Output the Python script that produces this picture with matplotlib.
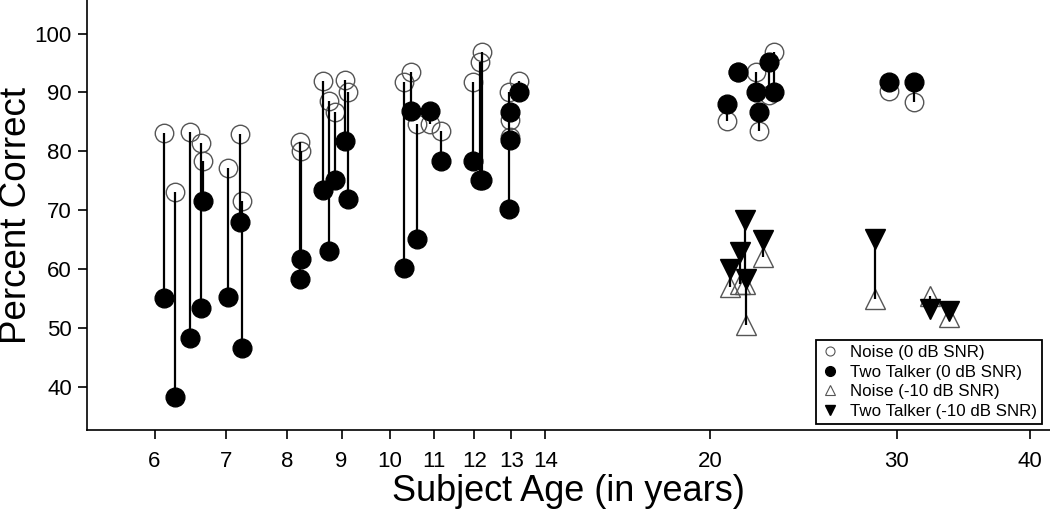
import matplotlib
matplotlib.use('Agg')
import matplotlib.pyplot as plt
from matplotlib.lines import Line2D

plt.rcParams['font.family'] = ['Liberation Sans', 'DejaVu Sans']

# children, 0 dB SNR: age, noise, two talker
kid_age = [6.13, 6.27, 6.48, 6.64, 6.66, 7.03, 7.22, 7.26, 8.23, 8.25, 8.65, 8.75,
           8.88, 9.07, 9.13, 10.30, 10.47, 10.59, 10.89, 11.17, 11.97, 12.15, 12.19,
           12.95, 12.97, 12.96, 13.22]
kid_noise = [83.1, 73.1, 83.3, 81.4, 78.4, 77.1, 83.0, 71.6, 81.6, 80.1, 92.0, 88.5,
             86.7, 92.1, 90.1, 91.7, 93.4, 84.7, 84.7, 83.5, 91.7, 95.1, 96.8,
             90.1, 85.3, 82.5, 92.0]
kid_talker = [55.1, 38.3, 48.3, 53.3, 71.6, 55.3, 68.0, 46.6, 58.3, 61.7, 73.4, 63.1,
              75.1, 81.7, 71.8, 60.1, 86.8, 65.0, 86.8, 78.4, 78.4, 75.1, 75.1,
              70.1, 86.7, 81.9, 90.1]

# adults, 0 dB SNR
ad_age = [20.75, 21.25, 22.1, 22.24, 22.75, 23.0, 29.5, 31.1]
ad_noise = [85.1, 93.4, 93.4, 83.5, 89.5, 96.8, 90.2, 88.4]
ad_talker = [88.1, 93.4, 90.1, 86.7, 95.1, 90.0, 91.7, 91.7]

# adults, -10 dB SNR
ad10_age = [20.9, 21.35, 21.59, 21.63, 22.46, 28.6, 32.2, 33.6]
ad10_noise = [56.9, 57.5, 57.5, 50.4, 62.0, 54.9, 55.4, 51.8]
ad10_talker = [60.0, 62.9, 68.3, 58.3, 64.9, 65.1, 53.2, 52.9]

xticks = [6, 7, 8, 9, 10, 11, 12, 13, 14, 20, 30, 40]
yticks = [40, 50, 60, 70, 80, 90, 100]

fig = plt.figure(figsize=(10.5, 5.09), dpi=100)
ax = fig.add_axes([0.0826, 0.155, 0.9174, 0.845])

ax.set_xscale('log')
ax.set_xlim(5.18, 41.8)
ax.set_ylim(32.6, 105.7)

ages = kid_age + ad_age
noise = kid_noise + ad_noise
talker = kid_talker + ad_talker

ax.plot(ages, noise, 'o', ms=13.3, mfc='none', mec='#555555', mew=1.0, zorder=2)
ax.plot(ad10_age, ad10_noise, '^', ms=15, mfc='none', mec='#555555', mew=1.0, zorder=2)
ax.vlines(ages, noise, talker, color='black', lw=1.6, zorder=3)
ax.vlines(ad10_age, ad10_noise, ad10_talker, color='black', lw=1.6, zorder=3)
ax.plot(ages, talker, 'o', ms=13.5, color='black', zorder=4)
ax.plot(ad10_age, ad10_talker, 'v', ms=15, color='black', zorder=4)

ax.set_xticks(xticks)
ax.set_xticklabels([str(t) for t in xticks])
ax.minorticks_off()
ax.set_yticks(yticks)
ax.tick_params(axis='x', labelsize=16, length=6.7, width=1.2, pad=8)
ax.tick_params(axis='y', labelsize=16, length=6.7, width=1.2, pad=4)

ax.spines['top'].set_visible(False)
ax.spines['right'].set_visible(False)
ax.spines['left'].set_linewidth(1.2)
ax.spines['bottom'].set_linewidth(1.2)

ax.set_xlabel('Subject Age (in years)', fontsize=26, labelpad=2)
ax.set_ylabel('Percent Correct', fontsize=26.5)
ax.yaxis.set_label_coords(-0.0545, 0.5)

handles = [
    Line2D([], [], ls='none', marker='o', ms=6.5, mfc='none', mec='#555555', mew=0.8),
    Line2D([], [], ls='none', marker='o', ms=7, color='black'),
    Line2D([], [], ls='none', marker='^', ms=7.5, mfc='none', mec='#555555', mew=0.8),
    Line2D([], [], ls='none', marker='v', ms=7.5, color='black'),
]
labels = ['Noise (0 dB SNR)', 'Two Talker (0 dB SNR)',
          'Noise (-10 dB SNR)', 'Two Talker (-10 dB SNR)']
leg = ax.legend(handles, labels, loc='lower right', bbox_to_anchor=(0.992, 0.014),
                borderaxespad=0, fontsize=12.2, fancybox=False, framealpha=1,
                edgecolor='black', handlelength=1.0, handletextpad=0.7,
                labelspacing=0.28, borderpad=0.3)
leg.get_frame().set_linewidth(1.3)

fig.savefig('out.png', dpi=100)
